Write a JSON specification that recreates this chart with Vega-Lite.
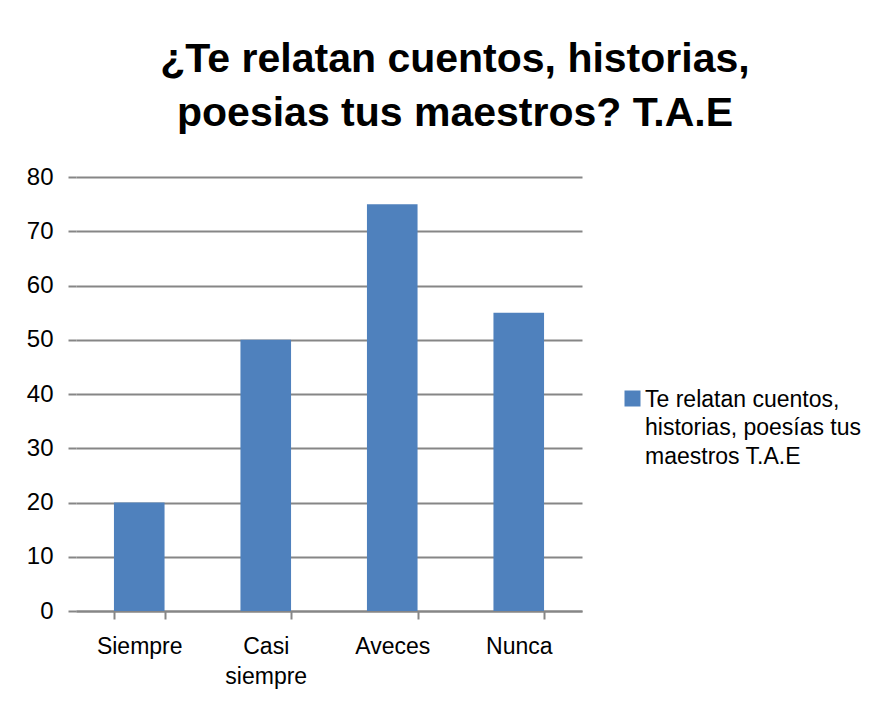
{
  "$schema": "https://vega.github.io/schema/vega-lite/v6.json",
  "width": 506,
  "height": 434,
  "autosize": {"type": "none"},
  "padding": {"left": 76, "top": 177, "right": 303, "bottom": 95},
  "background": "white",
  "title": {
    "text": ["¿Te relatan cuentos, historias,", "poesias tus maestros? T.A.E"],
    "font": "Liberation Sans",
    "fontSize": 41,
    "fontWeight": "bold",
    "color": "#000000",
    "lineHeight": 54,
    "anchor": "middle",
    "frame": "group",
    "dx": 126,
    "offset": 30
  },
  "data": {
    "values": [
      {"categoria": "Siempre", "valor": 20, "serie": "Te relatan cuentos, historias, poesías tus maestros T.A.E"},
      {"categoria": "Casi siempre", "valor": 50, "serie": "Te relatan cuentos, historias, poesías tus maestros T.A.E"},
      {"categoria": "Aveces", "valor": 75, "serie": "Te relatan cuentos, historias, poesías tus maestros T.A.E"},
      {"categoria": "Nunca", "valor": 55, "serie": "Te relatan cuentos, historias, poesías tus maestros T.A.E"}
    ]
  },
  "mark": {"type": "bar"},
  "encoding": {
    "x": {
      "field": "categoria",
      "type": "nominal",
      "sort": null,
      "scale": {"paddingInner": 0.6, "paddingOuter": 0.3},
      "axis": {
        "title": null,
        "labelAngle": 0,
        "tickBand": "extent",
        "tickSize": 8,
        "tickWidth": 2,
        "tickColor": "#868686",
        "domainColor": "#868686",
        "domainWidth": 2,
        "labelFont": "Liberation Sans",
        "labelFontSize": 23,
        "labelColor": "#000000",
        "labelPadding": 16,
        "labelLineHeight": 30,
        "labelExpr": "datum.value == 'Casi siempre' ? ['Casi', 'siempre'] : datum.value",
        "grid": false
      }
    },
    "y": {
      "field": "valor",
      "type": "quantitative",
      "scale": {"domain": [0, 80]},
      "axis": {
        "title": null,
        "values": [0, 10, 20, 30, 40, 50, 60, 70, 80],
        "domain": false,
        "tickSize": 8,
        "tickColor": "#868686",
        "tickWidth": 2,
        "gridColor": "#868686",
        "gridWidth": 2,
        "labelFont": "Liberation Sans",
        "labelFontSize": 24,
        "labelColor": "#000000",
        "labelPadding": 15
      }
    },
    "fill": {
      "field": "serie",
      "type": "nominal",
      "scale": {"range": ["#4F81BD"]},
      "legend": {
        "title": null,
        "orient": "none",
        "legendX": 545,
        "legendY": 210,
        "symbolType": "square",
        "symbolSize": 256,
        "symbolStrokeWidth": 0,
        "labelFont": "Liberation Sans",
        "labelFontSize": 23,
        "labelColor": "#000000",
        "labelLimit": 500,
        "labelOffset": 1,
        "labelBaseline": "top",
        "labelExpr": "['Te relatan cuentos,', 'historias, poesías tus', 'maestros T.A.E']",
        "encode": {"labels": {"update": {"lineHeight": {"value": 28.5}, "dy": {"value": -10}}}}
      }
    }
  },
  "config": {"view": {"stroke": null}}
}
